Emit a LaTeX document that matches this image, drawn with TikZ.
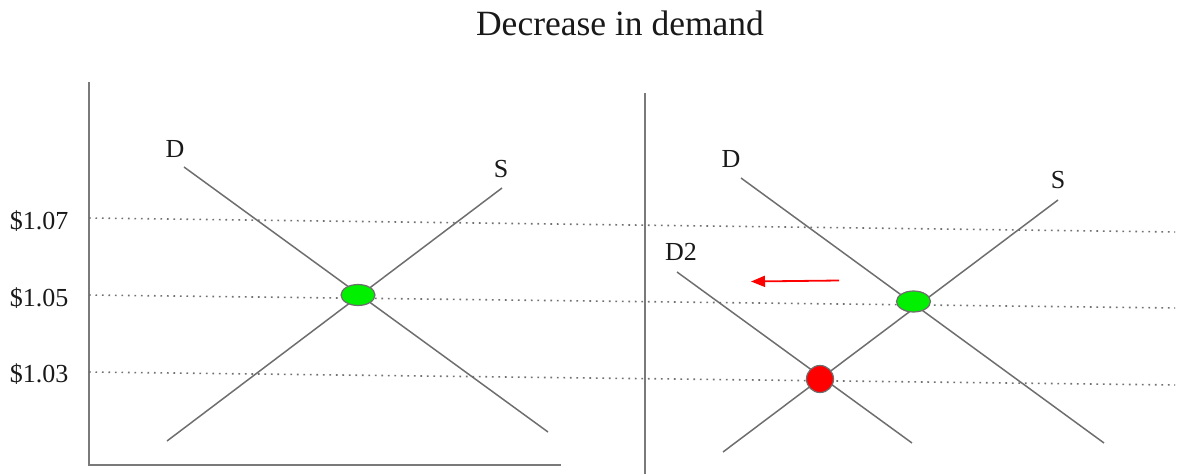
\documentclass[tikz,border=0pt]{standalone}
\usepackage{fontspec}
\setmainfont{Liberation Serif}
\usetikzlibrary{shapes.geometric,arrows.meta}
\definecolor{linegray}{HTML}{6E6E6E}
\definecolor{axisgray}{HTML}{7A7A7A}
\definecolor{dotgray}{HTML}{707070}
\definecolor{eqgreen}{HTML}{00F000}
\tikzset{
  axisline/.style={draw=axisgray, line width=1.8pt},
  curveline/.style={draw=linegray, line width=1.5pt},
  priceline/.style={draw=dotgray, line width=1.6pt, dash pattern=on 1.6pt off 4.9pt},
  lbl/.style={font=\fontsize{26}{30}\selectfont, anchor=base, inner sep=0pt, text=black!90},
  ttl/.style={font=\fontsize{35.5}{40}\selectfont, anchor=base, inner sep=0pt, text=black!90},
  greendot/.style={ellipse, draw=linegray, line width=1.2pt, fill=eqgreen, inner sep=0pt, minimum width=34pt, minimum height=21pt},
  reddot/.style={circle, draw=linegray, line width=1.2pt, fill=red, inner sep=0pt, minimum size=27pt},
  shiftarrow/.style={draw=red, line width=1.8pt, -{Triangle[length=14pt,width=11pt]}}
}
\begin{document}
\begin{tikzpicture}[x=1pt,y=-1pt]
\useasboundingbox (0,0) rectangle (1180,474);
% title
\node[ttl] (title) at (620,35) {Decrease in demand};
% axes
\coordinate (Ltop) at (89,82);
\coordinate (Lorig) at (89,465);
\coordinate (Lright) at (561,465);
\coordinate (Rtop) at (645,93);
\coordinate (Rbot) at (645,474);
\draw[axisline] (Ltop) -- (Lorig) -- (Lright);
\draw[axisline] (Rtop) -- (Rbot);
% price lines
\coordinate (p7a) at (89,218); \coordinate (p7b) at (1175,232);
\coordinate (p5a) at (89,295); \coordinate (p5b) at (1175,308);
\coordinate (p3a) at (89,372); \coordinate (p3b) at (1175,385);
\draw[priceline] (p7a) -- (p7b);
\draw[priceline] (p5a) -- (p5b);
\draw[priceline] (p3a) -- (p3b);
\node[lbl] (l107) at (39,229) {\$1.07};
\node[lbl] (l105) at (39,306) {\$1.05};
\node[lbl] (l103) at (39,382) {\$1.03};
% left panel curves
\coordinate (LDa) at (184,167); \coordinate (LDb) at (548,432);
\coordinate (LSa) at (167,441); \coordinate (LSb) at (502,188);
\draw[curveline] (LDa) -- (LDb);
\draw[curveline] (LSa) -- (LSb);
\node[lbl] (LDl) at (175,157) {D};
\node[lbl] (LSl) at (501,177) {S};
% right panel curves
\coordinate (RDa) at (741,178); \coordinate (RDb) at (1104,443);
\coordinate (RSa) at (723,452); \coordinate (RSb) at (1058,200);
\coordinate (D2a) at (677,272); \coordinate (D2b) at (912,443);
\draw[curveline] (RDa) -- (RDb);
\draw[curveline] (RSa) -- (RSb);
\draw[curveline] (D2a) -- (D2b);
\node[lbl] (RDl) at (731,167) {D};
\node[lbl] (RSl) at (1058,188) {S};
\node[lbl] (D2l) at (681,260) {D2};
% shift arrow
\coordinate (arrS) at (839,280.5);
\coordinate (arrE) at (751,281.5);
\draw[shiftarrow] (arrS) -- (arrE);
% equilibrium points
\node[greendot] (eqL) at (358,295) {};
\node[greendot] (eqR) at (913.5,301.5) {};
\node[reddot] (eqN) at (820,379) {};
\end{tikzpicture}
\end{document}
